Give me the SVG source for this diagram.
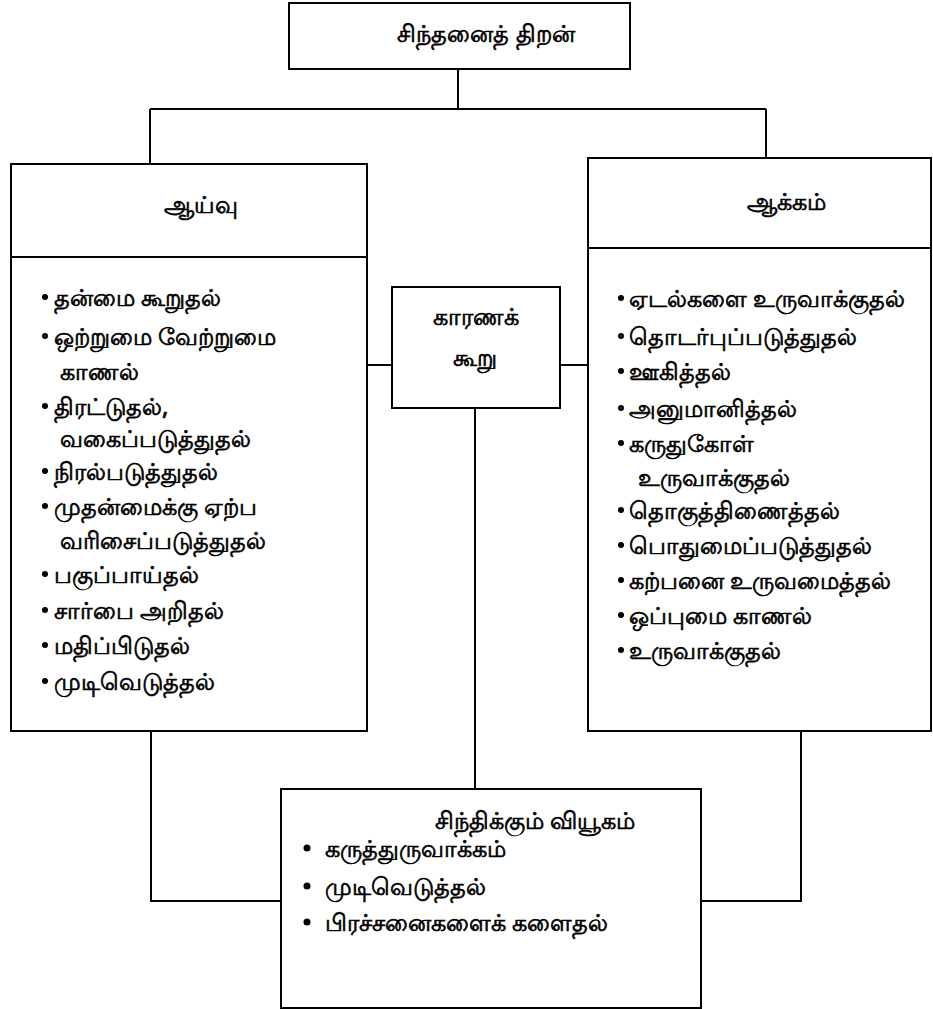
<svg xmlns="http://www.w3.org/2000/svg" width="933" height="1009" viewBox="0 0 933 1009">
<style>
.box{fill:#fff;stroke:#000;stroke-width:2}
.ln{fill:none;stroke:#000;stroke-width:2}
text{font-family:"Noto Sans","DejaVu Sans",sans-serif;font-size:24px;font-weight:normal;fill:#000;stroke:#000;stroke-width:0.7}
.c{text-anchor:middle}
</style>
<rect width="933" height="1009" fill="#fff"/>
<g id="connectors">
<path class="ln" d="M458,69V109M150,109H766M150,109V164M766,109V158"/>
<path class="ln" d="M367,365H392M560,365H588"/>
<path class="ln" d="M475,408V789"/>
<path class="ln" d="M151,731V901H281M801,731V901H701"/>
</g>
<g id="n-top">
<rect class="box" x="289" y="3" width="341" height="66"/>
<text class="c" x="486" y="42">சிந்தனைத் திறன்</text>
</g>
<g id="n-left">
<rect class="box" x="11" y="164" width="356" height="567"/>
<line class="ln" x1="11" y1="257" x2="367" y2="257"/>
<text class="c" x="201" y="213">ஆய்வு</text>
<g id="left-items">
<circle cx="45" cy="297" r="3"/><text x="54" y="306">தன்மை கூறுதல்</text>
<circle cx="45" cy="336" r="3"/><text x="54" y="345">ஒற்றுமை வேற்றுமை</text>
<text x="60" y="380">காணல்</text>
<circle cx="45" cy="406" r="3"/><text x="54" y="415">திரட்டுதல்,</text>
<text x="60" y="447">வகைப்படுத்துதல்</text>
<circle cx="45" cy="471" r="3"/><text x="54" y="480">நிரல்படுத்துதல்</text>
<circle cx="45" cy="506" r="3"/><text x="54" y="515">முதன்மைக்கு ஏற்ப</text>
<text x="60" y="549">வரிசைப்படுத்துதல்</text>
<circle cx="45" cy="574" r="3"/><text x="54" y="583">பகுப்பாய்தல்</text>
<circle cx="45" cy="610" r="3"/><text x="54" y="619">சார்பை அறிதல்</text>
<circle cx="45" cy="645" r="3"/><text x="54" y="654">மதிப்பிடுதல்</text>
<circle cx="45" cy="681" r="3"/><text x="54" y="690">முடிவெடுத்தல்</text>
</g>
</g>
<g id="n-mid">
<rect class="box" x="392" y="287" width="168" height="121"/>
<text class="c" x="476" y="325">காரணக்</text>
<text class="c" x="475" y="366">கூறு</text>
</g>
<g id="n-right">
<rect class="box" x="588" y="158" width="343" height="573"/>
<line class="ln" x1="588" y1="248" x2="931" y2="248"/>
<text class="c" x="786" y="210">ஆக்கம்</text>
<g id="right-items">
<circle cx="621" cy="298" r="3"/><text x="629" y="307">ஏடல்களை உருவாக்குதல்</text>
<circle cx="621" cy="336" r="3"/><text x="629" y="345">தொடர்புப்படுத்துதல்</text>
<circle cx="621" cy="371" r="3"/><text x="629" y="380">ஊகித்தல்</text>
<circle cx="621" cy="408" r="3"/><text x="629" y="417">அனுமானித்தல்</text>
<circle cx="621" cy="443" r="3"/><text x="629" y="452">கருதுகோள்</text>
<text x="638" y="486">உருவாக்குதல்</text>
<circle cx="621" cy="510" r="3"/><text x="629" y="519">தொகுத்திணைத்தல்</text>
<circle cx="621" cy="545" r="3"/><text x="629" y="554">பொதுமைப்படுத்துதல்</text>
<circle cx="621" cy="580" r="3"/><text x="629" y="589">கற்பனை உருவமைத்தல்</text>
<circle cx="621" cy="615" r="3"/><text x="629" y="624">ஒப்புமை காணல்</text>
<circle cx="621" cy="650" r="3"/><text x="629" y="659">உருவாக்குதல்</text>
</g>
</g>
<g id="n-bottom">
<rect class="box" x="281" y="789" width="420" height="219"/>
<text x="435" y="829">சிந்திக்கும் வியூகம்</text>
<circle cx="307" cy="848" r="3.5"/><text x="325" y="857">கருத்துருவாக்கம்</text>
<circle cx="307" cy="886" r="3.5"/><text x="325" y="895">முடிவெடுத்தல்</text>
<circle cx="307" cy="922" r="3.5"/><text x="325" y="931">பிரச்சனைகளைக் களைதல்</text>
</g>
</svg>
